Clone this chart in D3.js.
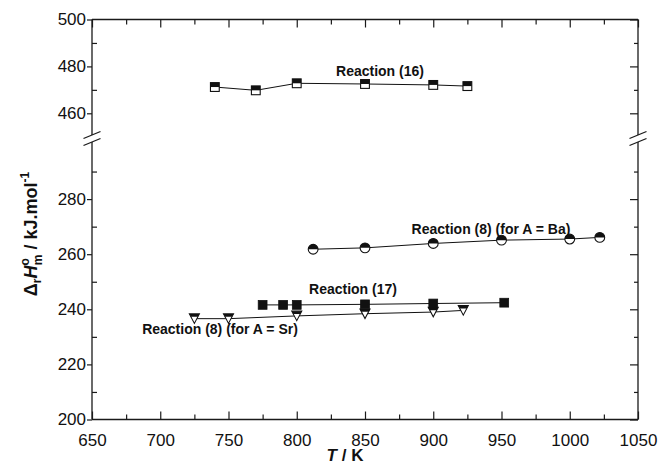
<!DOCTYPE html>
<html><head><meta charset="utf-8">
<script src="https://cdn.jsdelivr.net/npm/d3@7/dist/d3.min.js"></script>
<style>
html,body{margin:0;padding:0;background:#fff;}
svg{display:block;font-family:"Liberation Sans",Arial,Helvetica,sans-serif;}
</style></head>
<body>
<svg id="chart" width="663" height="468"></svg>
<script>
// ---- data ----
const T16 = [740, 770, 800, 850, 900, 925];
const H16 = [471.2, 469.8, 472.8, 472.5, 472.1, 471.6];
const TBa = [812, 850, 900, 950, 1000, 1022];
const HBa = [261.8, 262.3, 263.9, 265.1, 265.5, 266.1];
const T17 = [775, 790, 800, 850, 900, 952];
const H17 = [241.6, 241.6, 241.6, 241.8, 242.1, 242.4];
const TSr = [725, 750, 800, 850, 900, 922];
const HSr = [236.6, 236.6, 237.6, 238.4, 239.0, 239.6];
const xMajor = [650, 700, 750, 800, 850, 900, 950, 1000, 1050];
const xMinor = [675, 725, 775, 825, 875, 925, 975, 1025];
const yUpMajor = [460, 480, 500];
const yUpMinor = [470, 490];
const yLoMajor = [200, 220, 240, 260, 280];
const yLoMinor = [210, 230, 250, 270, 290];
const seriesLabels = ["Reaction (16)", "Reaction (8) (for A = Ba)", "Reaction (17)", "Reaction (8) (for A = Sr)"];

// ---- layout ----
const L = 92, R = 638, TOP = 19.5, BOT = 419.5;
const svg = d3.select("#chart");
const x = d3.scaleLinear().domain([650, 1050]).range([L, R]);
const yU = d3.scaleLinear().domain([450, 500]).range([136.75, TOP]);
const yL = d3.scaleLinear().domain([200, 300]).range([BOT, 144]);
const breakTop = 135, breakBot = 142;

const g = svg.append("g");
const axisStroke = "#1a1a1a";

// frame lines
g.append("line").attr("x1", L).attr("x2", R).attr("y1", TOP).attr("y2", TOP);
g.append("line").attr("x1", L).attr("x2", R).attr("y1", BOT).attr("y2", BOT);
[L, R].forEach(xx => {
  g.append("line").attr("x1", xx).attr("x2", xx).attr("y1", TOP).attr("y2", breakTop);
  g.append("line").attr("x1", xx).attr("x2", xx).attr("y1", breakBot).attr("y2", BOT);
  [breakTop, breakBot].forEach(yy => {
    g.append("line").attr("x1", xx - 8.5).attr("x2", xx + 8.5).attr("y1", yy + 3.5).attr("y2", yy - 3.5);
  });
});
g.selectAll("line").attr("stroke", axisStroke).attr("stroke-width", 1.3);

function styleAxis(sel, showText) {
  sel.select(".domain").remove();
  sel.selectAll(".tick line").attr("stroke", axisStroke).attr("stroke-width", 1.2);
  if (!showText) sel.selectAll(".tick text").remove();
  else sel.selectAll(".tick text").attr("fill", "#111").attr("font-size", 17);
}

// bottom axis
svg.append("g").attr("transform", `translate(0,${BOT})`)
  .call(d3.axisBottom(x).tickValues(xMajor).tickSize(-8).tickPadding(14).tickFormat(d3.format("d")))
  .call(s => styleAxis(s, true));
svg.append("g").attr("transform", `translate(0,${BOT})`)
  .call(d3.axisBottom(x).tickValues(xMinor).tickSize(-5))
  .call(s => styleAxis(s, false));
// top axis
svg.append("g").attr("transform", `translate(0,${TOP})`)
  .call(d3.axisTop(x).tickValues(xMajor).tickSize(-8))
  .call(s => styleAxis(s, false));
svg.append("g").attr("transform", `translate(0,${TOP})`)
  .call(d3.axisTop(x).tickValues(xMinor).tickSize(-5))
  .call(s => styleAxis(s, false));

// left / right axes
[[yU, yUpMajor, yUpMinor], [yL, yLoMajor, yLoMinor]].forEach(([ys, maj, mn]) => {
  svg.append("g").attr("transform", `translate(${L},0)`)
    .call(d3.axisLeft(ys).tickValues(maj).tickSize(5).tickPadding(1).tickFormat(d3.format("d")))
    .call(s => styleAxis(s, true));
  svg.append("g").attr("transform", `translate(${L},0)`)
    .call(d3.axisLeft(ys).tickValues(mn).tickSize(-5))
    .call(s => styleAxis(s, false));
  svg.append("g").attr("transform", `translate(${R},0)`)
    .call(d3.axisRight(ys).tickValues(maj).tickSize(-8))
    .call(s => styleAxis(s, false));
  svg.append("g").attr("transform", `translate(${R},0)`)
    .call(d3.axisRight(ys).tickValues(mn).tickSize(-4))
    .call(s => styleAxis(s, false));
});

// ---- series ----
function drawLine(Ts, Hs, ys) {
  const pts = Ts.map((t, i) => [t, Hs[i]]);
  svg.append("path").datum(pts)
    .attr("fill", "none").attr("stroke", "#111").attr("stroke-width", 1)
    .attr("d", d3.line().x(d => x(d[0])).y(d => ys(d[1])));
  return pts;
}
const sq = 4.4;   // half size of square marker
function halfSquare(sel) {
  sel.append("rect").attr("x", -sq).attr("y", -sq).attr("width", 2 * sq).attr("height", 2 * sq)
    .attr("fill", "#fff").attr("stroke", "#111").attr("stroke-width", 1.1);
  sel.append("rect").attr("x", -sq).attr("y", -sq).attr("width", 2 * sq).attr("height", sq)
    .attr("fill", "#111");
}
function solidSquare(sel) {
  sel.append("rect").attr("x", -sq).attr("y", -sq).attr("width", 2 * sq).attr("height", 2 * sq)
    .attr("fill", "#111").attr("stroke", "#111").attr("stroke-width", 0.8);
}
const cr = 4.9;
function halfCircle(sel) {
  sel.append("circle").attr("r", cr).attr("fill", "#fff").attr("stroke", "#111").attr("stroke-width", 1.1);
  sel.append("path").attr("d", `M${-cr},0 A${cr},${cr} 0 0 1 ${cr},0 Z`).attr("fill", "#111");
}
const tw = 5, th = 9.5;
function halfTriangle(sel) {
  sel.append("path").attr("d", `M${-tw},${-th / 2} L${tw},${-th / 2} L0,${th / 2} Z`)
    .attr("fill", "#fff").attr("stroke", "#111").attr("stroke-width", 1.1).attr("stroke-linejoin", "miter");
  const f = 0.3, w2 = tw * (1 - f);
  sel.append("path").attr("d", `M${-tw},${-th / 2} L${tw},${-th / 2} L${w2},${-th / 2 + th * f} L${-w2},${-th / 2 + th * f} Z`)
    .attr("fill", "#111");
}
function drawMarkers(pts, ys, fn) {
  svg.append("g").selectAll("g").data(pts).join("g")
    .attr("transform", d => `translate(${x(d[0])},${ys(d[1])})`)
    .each(function () { fn(d3.select(this)); });
}
const p16 = drawLine(T16, H16, yU);
const pBa = drawLine(TBa, HBa, yL);
const pSr = drawLine(TSr, HSr, yL);
const p17 = drawLine(T17, H17, yL);
drawMarkers(p16, yU, halfSquare);
drawMarkers(pBa, yL, halfCircle);
drawMarkers(pSr, yL, halfTriangle);
drawMarkers(p17, yL, solidSquare);

// ---- series labels ----
const labelPos = [[380, 76], [491, 234], [353, 294], [220, 334]];
seriesLabels.forEach((t, i) => {
  svg.append("text").attr("x", labelPos[i][0]).attr("y", labelPos[i][1])
    .attr("text-anchor", "middle").attr("font-weight", "bold").attr("font-size", 14)
    .attr("fill", "#111").text(t);
});

// ---- axis titles ----
const xt = svg.append("text").attr("x", 345).attr("y", 461).attr("text-anchor", "middle")
  .attr("font-weight", "bold").attr("font-size", 17).attr("fill", "#111");
xt.append("tspan").attr("font-style", "italic").text("T");
xt.append("tspan").text(" / K");

const yt = svg.append("text").attr("transform", "translate(37,234) rotate(-90)")
  .attr("text-anchor", "middle").attr("font-weight", "bold").attr("font-size", 18).attr("fill", "#111");
yt.append("tspan").text("Δ");
yt.append("tspan").attr("font-size", 12).attr("dy", 4).text("r");
yt.append("tspan").attr("font-style", "italic").attr("dy", -4).text("H");
yt.append("tspan").attr("font-size", 12).attr("dy", -8).text("o");
yt.append("tspan").attr("font-size", 12).attr("dx", -7).attr("dy", 13).text("m");
yt.append("tspan").attr("dy", -5).text(" / kJ.mol");
yt.append("tspan").attr("font-size", 12).attr("dy", -8).text("-1");
</script>
</body></html>
